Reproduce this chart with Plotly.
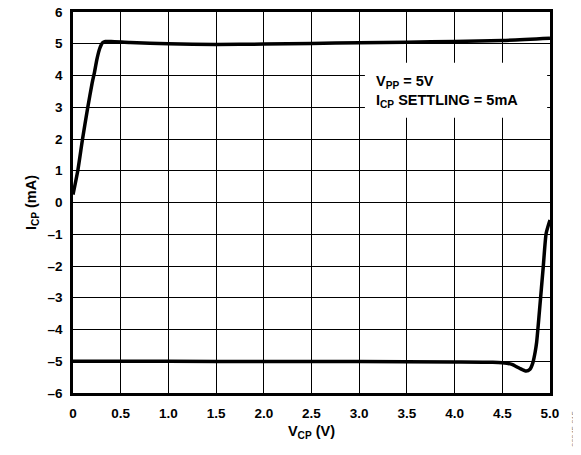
import plotly.graph_objects as go

# Upper curve (sourcing, +5 mA)
x_up = [0.0, 0.05, 0.10, 0.155, 0.20, 0.225, 0.25, 0.28, 0.31, 0.34, 0.40, 0.60, 1.0, 1.5, 2.0, 2.5, 3.0, 3.5, 4.0, 4.5, 5.0]
y_up = [0.25, 1.0, 2.0, 3.0, 3.75, 4.1, 4.5, 4.85, 5.03, 5.07, 5.07, 5.04, 5.0, 4.98, 4.99, 5.01, 5.03, 5.05, 5.07, 5.10, 5.17]

# Lower curve (sinking, -5 mA)
x_dn = [0.0, 1.0, 2.0, 3.0, 4.0, 4.4, 4.5, 4.6, 4.68, 4.75, 4.79, 4.82, 4.845, 4.86, 4.89, 4.93, 4.96, 5.0]
y_dn = [-5.0, -5.0, -5.01, -5.01, -5.02, -5.03, -5.05, -5.1, -5.22, -5.31, -5.25, -5.05, -4.7, -4.4, -3.4, -2.0, -0.97, -0.55]

x_ticks = [0, 0.5, 1.0, 1.5, 2.0, 2.5, 3.0, 3.5, 4.0, 4.5, 5.0]
x_ticktext = ["0", "0.5", "1.0", "1.5", "2.0", "2.5", "3.0", "3.5", "4.0", "4.5", "5.0"]
y_ticks = [6, 5, 4, 3, 2, 1, 0, -1, -2, -3, -4, -5, -6]
y_ticktext = ["6", "5", "4", "3", "2", "1", "0", "–1", "–2", "–3", "–4", "–5", "–6"]

FONT = "Liberation Sans, Arial, sans-serif"

fig = go.Figure()
for xs, ys in [(x_up, y_up), (x_dn, y_dn)]:
    fig.add_trace(go.Scatter(x=xs, y=ys, mode="lines",
                             line=dict(color="black", width=3.5, shape="spline", smoothing=0.6),
                             showlegend=False, hoverinfo="skip"))

axis_common = dict(showgrid=True, gridcolor="black", gridwidth=1.3, zeroline=False,
                   showline=True, linecolor="black", linewidth=2.5, mirror=True, automargin=False,
                   ticklabeloverflow="allow",
                   ticks="", tickfont=dict(family=FONT, size=13.5, color="black", weight="bold"))

fig.update_xaxes(range=[0, 5], tickvals=x_ticks, ticktext=x_ticktext,
                 title=dict(text="V<sub>CP</sub> (V)", font=dict(family=FONT, size=14.5, color="black", weight="bold"), standoff=6),
                 ticklabelstandoff=6, **axis_common)
fig.update_yaxes(range=[-6, 6], tickvals=y_ticks, ticktext=y_ticktext,
                 title=dict(text="I<sub>CP</sub> (mA)", font=dict(family=FONT, size=14.5, color="black", weight="bold"), standoff=8),
                 ticklabelstandoff=5, **axis_common)

# white box behind the legend text
fig.add_shape(type="rect", xref="x", yref="y", x0=3.06, x1=4.97, y0=2.67, y1=4.4,
              fillcolor="white", line=dict(width=0), layer="above")
fig.add_annotation(x=3.16, y=3.49, xref="x", yref="y", xanchor="left", yanchor="middle",
                   align="left", showarrow=False,
                   text="V<sub>PP</sub> = 5V<br>I<sub>CP</sub> SETTLING = 5mA",
                   font=dict(family=FONT, size=14.5, color="black", weight="bold"))

fig.add_annotation(xref="paper", yref="paper", x=1.05, y=-0.095, xanchor="center", yanchor="middle",
                   text="06045-015", textangle=-90, showarrow=False,
                   font=dict(family=FONT, size=7.5, color="#808080"))

# page body adds an 8 px offset; size the figure so the plot lands where the reference has it
fig.update_layout(width=573, height=447, margin=dict(l=65, r=31, t=4, b=62, autoexpand=False),
                  plot_bgcolor="white", paper_bgcolor="white",
                  font=dict(family=FONT, color="black"))

fig.write_html("out.html")
